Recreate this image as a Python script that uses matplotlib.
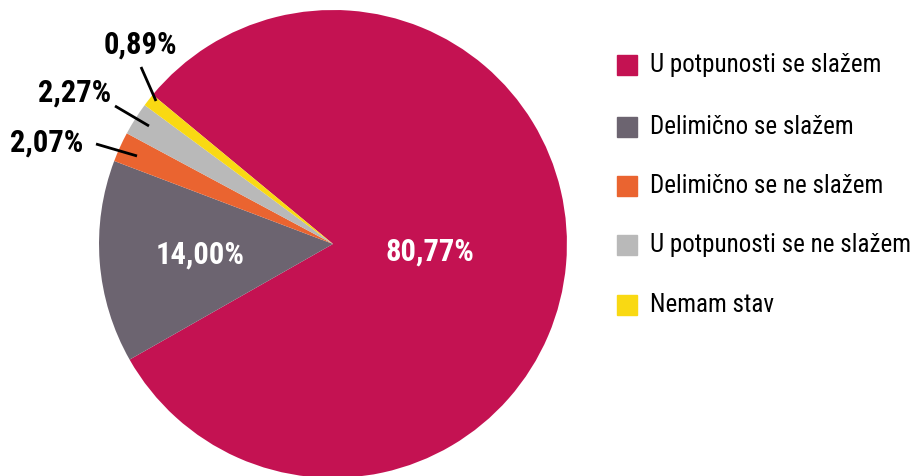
import matplotlib
matplotlib.use("Agg")
from matplotlib import pyplot as plt
from matplotlib import font_manager

# pick a narrow font if one is installed
names = set(f.name for f in font_manager.fontManager.ttflist)
font = "DejaVu Sans"
for cand in ["Roboto Condensed", "Liberation Sans Narrow", "Open Sans Condensed", "DejaVu Sans"]:
    if cand in names:
        font = cand
        break
plt.rcParams["font.family"] = [font, "DejaVu Sans"]
plt.rcParams["font.stretch"] = "condensed"

categories = ["U potpunosti se slažem", "Delimično se slažem", "Delimično se ne slažem",
              "U potpunosti se ne slažem", "Nemam stav"]
values = [80.77, 14.00, 2.07, 2.27, 0.89]
labels = ["80,77%", "14,00%", "2,07%", "2,27%", "0,89%"]
colors = ["#C41252", "#6C6470", "#EA6430", "#B9B9B9", "#F9D913"]

fig = plt.figure(figsize=(9.13, 4.76), dpi=100)
ax = fig.add_axes([0.1084, -0.004, 0.5126, 0.983])
wedges, _ = ax.pie(values, colors=colors, startangle=140.4, counterclock=False,
                   radius=1, wedgeprops=dict(linewidth=0))
ax.set_xlim(-1, 1)
ax.set_ylim(-1, 1)
ax.set_aspect("equal")

# inside labels (axes units: pixels / 234 from center 333,244)
def px(x, y):
    return (x - 333) / 234.0, (244 - y) / 234.0

ax.text(*px(430, 252), labels[0], color="white", fontsize=22, fontweight="bold",
        ha="center", va="center")
ax.text(*px(200, 255), labels[1], color="white", fontsize=22, fontweight="bold",
        ha="center", va="center")

# outside labels with leader lines
outside = [(2, (47, 143), (96, 144), (137, 156)),
           (3, (75, 93), (115, 106), (149, 126)),
           (4, (140, 45), (141, 67), (156, 101))]
for i, tpos, p0, p1 in outside:
    ax.text(*px(*tpos), labels[i], color="black", fontsize=22, fontweight="bold",
            ha="center", va="center", clip_on=False)
    x0, y0 = px(*p0)
    x1, y1 = px(*p1)
    ax.plot([x0, x1], [y0, y1], color="black", lw=2, clip_on=False, solid_capstyle="butt")

# legend
rows = [65, 127, 186, 245, 305]
for name, col, y in zip(categories, colors, rows):
    fig.patches.append(plt.Rectangle((617 / 913, (476 - y - 10) / 476), 20 / 913, 20 / 476,
                                     transform=fig.transFigure, color=col, figure=fig))
    fig.text(650 / 913, (476 - y) / 476, name, fontsize=18, va="center", ha="left")

fig.savefig("out.png", dpi=100)
